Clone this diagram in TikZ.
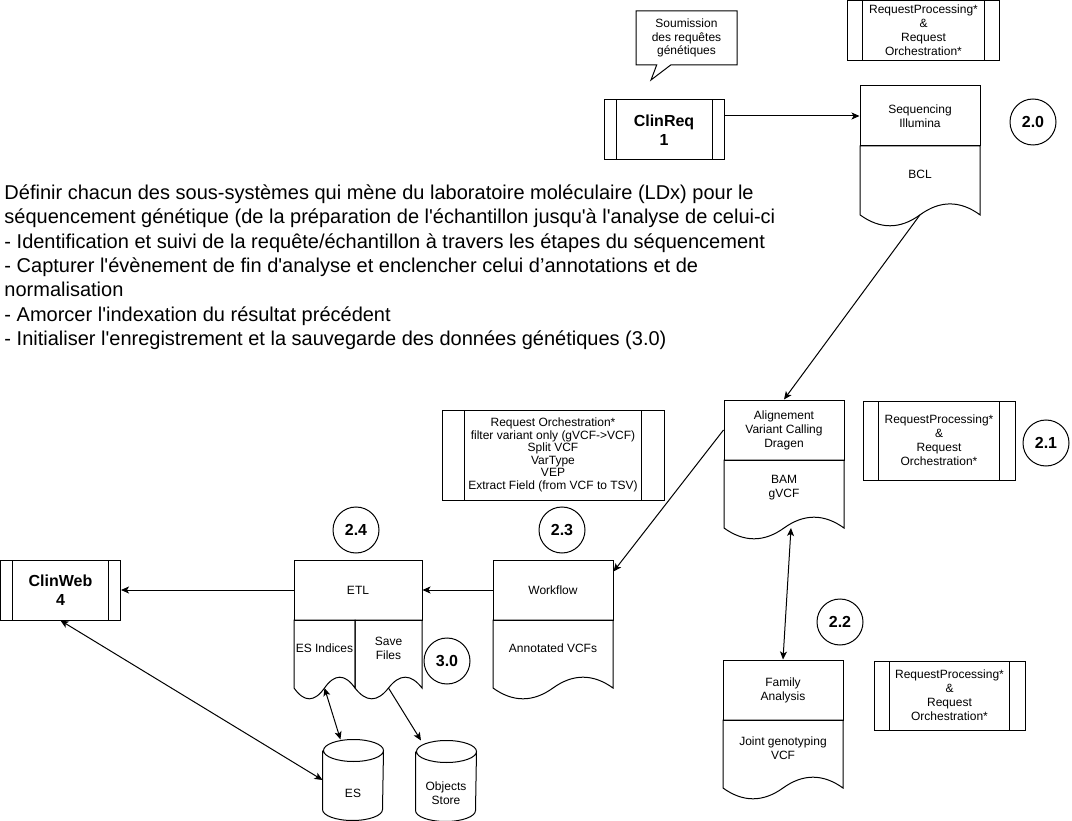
\documentclass[tikz,border=0pt]{standalone}
\usepackage{fontspec}
\setmainfont{Liberation Sans}
\usepackage{tikz}
\usetikzlibrary{arrows.meta,positioning,calc,shapes.callouts}

\newcommand{\q}{\textquotesingle}
% lower part of a document: sides and wavy bottom, text near the top
\newcommand{\docpart}[6]{%
  \pgfmathsetmacro\docdy{0.3*#5}
  \draw (#2,#3) -- ({#2+#4},#3) -- ({#2+#4},{#3+#5-\docdy/2})
    .. controls ({#2+5*#4/6},{#3+#5-1.1*\docdy}) and ({#2+2*#4/3},{#3+#5-1.1*\docdy}) .. ({#2+#4/2},{#3+#5-\docdy/2})
    .. controls ({#2+#4/3},{#3+#5+0.1*\docdy}) and ({#2+#4/6},{#3+#5+0.1*\docdy}) .. (#2,{#3+#5-\docdy/2}) -- cycle;
  \coordinate (#1-mid) at ({#2+#4/2},{#3+#5-\docdy/2});
  \node [lbl] (#1) at ({#2+#4/2},{#3+0.35*#5}) {#6};
}
% cylinder drawn round a db node
\newcommand{\dbshape}[1]{%
  \draw ([yshift=-11pt]#1.north west) -- ([yshift=11pt]#1.south west)
    arc[start angle=180,end angle=360,x radius=30pt,y radius=11pt]
    -- ([yshift=-11pt]#1.north east)
    arc[start angle=0,end angle=180,x radius=30pt,y radius=11pt]
    arc[start angle=180,end angle=360,x radius=30pt,y radius=11pt];
}

\begin{document}
\begin{tikzpicture}
[x=1pt,y=-1pt,line width=1pt,>={Stealth[length=8pt,width=7pt,inset=2pt]},
  lbl/.style={align=center,font=\fontsize{12}{14}\selectfont},
  box node/.style={draw,rectangle,lbl,inner sep=0pt,minimum width=120pt,minimum height=60pt},
  process node/.style={box node,path picture={
      \draw let \p1=(path picture bounding box.south west),\p2=(path picture bounding box.north east),
        \n1={0.1*(\x2-\x1)} in (\x1+\n1,\y1) -- (\x1+\n1,\y2) (\x2-\n1,\y1) -- (\x2-\n1,\y2);}},
  big node/.style={font=\fontsize{16}{19}\selectfont\bfseries},
  step node/.style={draw,circle,minimum size=46pt,inner sep=0pt,big node},
  db node/.style={rectangle,minimum width=60pt,minimum height=80pt,inner sep=0pt},
  note node/.style={draw,rectangle callout,lbl,font=\fontsize{12}{13.5}\selectfont,
    minimum width=101pt,minimum height=54pt,callout pointer width=14pt}]

  \path [use as bounding box,fill=white] (0,0) rectangle (1072,821);

  % description
  \node [anchor=north west,inner sep=0pt,align=left,font=\fontsize{20}{24.4}\selectfont] (goals) at (4,184)
    {Définir chacun des sous-systèmes qui mène du laboratoire moléculaire (LDx) pour le\\
     séquencement génétique (de la préparation de l\q échantillon jusqu\q à l\q analyse de celui-ci\\
     - Identification et suivi de la requête/échantillon à travers les étapes du séquencement\\
     - Capturer l\q évènement de fin d\q analyse et enclencher celui d’annotations et de\\
     normalisation\\
     - Amorcer l\q indexation du résultat précédent\\
     - Initialiser l\q enregistrement et la sauvegarde des données génétiques (3.0)};

  \node [note node,callout absolute pointer={(651,80)}] (note) at (686.5,38) {Soumission\\des requêtes\\génétiques};

  \node [process node,big node] (clinreq) at (664,130) {ClinReq\\1};
  \node [process node,big node] (clinweb) at (60.5,590) {ClinWeb\\4};

  \node [process node,minimum width=152pt] (rp0) at (923.5,30.5) {RequestProcessing*\\\&\\Request\\Orchestration*};
  \node [process node,minimum width=152pt,minimum height=79pt] (rp1) at (939,440.5) {RequestProcessing*\\\&\\Request\\Orchestration*};
  \node [process node,minimum width=151pt,minimum height=69pt] (rp2) at (949.5,695.5) {RequestProcessing*\\\&\\Request\\Orchestration*};
  \node [process node,minimum width=222pt,minimum height=90pt,font=\fontsize{12}{12.5}\selectfont] (ro) at (553,455)
    {Request Orchestration*\\filter variant only (gVCF->VCF)\\Split VCF\\VarType\\VEP\\Extract Field (from VCF to TSV)};

  \node [box node] (seq) at (920,116) {Sequencing\\Illumina};
  \node [box node] (align) at (784,430) {Alignement\\Variant Calling\\Dragen};
  \node [box node] (family) at (783,690) {Family\\Analysis};
  \node [box node] (wflow) at (553,590) {Workflow};
  \node [box node,minimum width=128pt] (etl) at (358,590) {ETL};

  \docpart{bcl}{860}{146}{120}{81}{BCL}
  \docpart{gvcf}{724}{460}{120}{80}{BAM\\gVCF}
  \docpart{joint}{723}{720}{120}{80}{Joint genotyping\\VCF}
  \docpart{annot}{493}{620}{120}{80}{Annotated VCFs}
  \docpart{esidx}{294}{620}{61}{80}{ES Indices}
  \docpart{savef}{355}{620}{67}{80}{Save\\Files}

  \node [db node] (es) at (353,780) {};
  \node [db node] (objstore) at (446,781) {};
  \dbshape{es}
  \dbshape{objstore}
  \node [lbl] (eslbl) at ($(es.center)+(0,13)$) {ES};
  \node [lbl] (objlbl) at ($(objstore.center)+(0,12)$) {Objects\\Store};

  \node [step node] (s20) at (1033,122) {2.0};
  \node [step node] (s21) at (1046,443) {2.1};
  \node [step node] (s22) at (840,622) {2.2};
  \node [step node] (s23) at (562,530) {2.3};
  \node [step node] (s24) at (356,530) {2.4};
  \node [step node] (s30) at (447,661) {3.0};

  \foreach \from/\to in {bcl-mid/align.north,wflow/etl,etl/clinweb,savef-mid/objstore}
    \draw [->] (\from) -- (\to);
  \draw [->] (clinreq.east |- seq.west) -- (seq.west);
  \draw [->] (align.west) -- ($(wflow.north east)+(0,12)$);
  \draw [<->] ($(gvcf-mid)+(7,0)$) -- (family.north);
  \draw [<->] (esidx-mid) -- (es);
  \draw [<->] (clinweb.south) -- (es.west);

\end{tikzpicture}
\end{document}
